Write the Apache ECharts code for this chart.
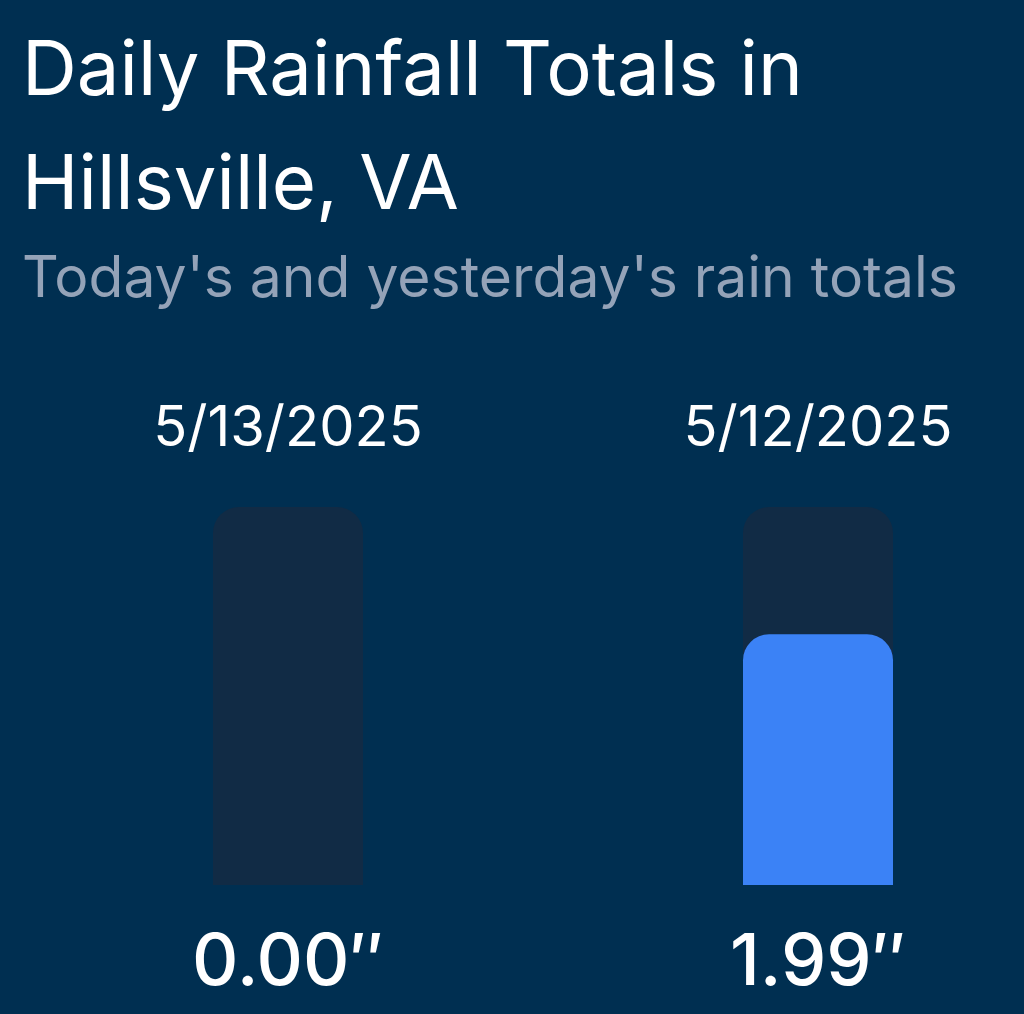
<!DOCTYPE html>
<html><head><meta charset="utf-8">
<script src="https://cdn.jsdelivr.net/npm/echarts@6/dist/echarts.min.js"></script>
<style>html,body{margin:0;padding:0;background:#002f51;}#c{width:1024px;height:1014px;}</style>
</head><body><div id="c"></div>
<script>
const dates = ['5/13/2025', '5/12/2025'];
const rainfall = [0.00, 1.99];
const axisMax = 3;
const titleText = 'Daily Rainfall Totals in\nHillsville, VA';
const subtitleText = "Today's and yesterday's rain totals";

const chart = echarts.init(document.getElementById('c'));
chart.setOption({
  backgroundColor: '#002f51',
  animation: false,
  title: {
    text: titleText,
    subtext: subtitleText,
    left: 17, top: 10,
    itemGap: 8,
    textStyle: { fontFamily: 'Inter', fontSize: 76, fontWeight: 400, color: '#ffffff', lineHeight: 114 },
    subtextStyle: { fontFamily: 'Inter', fontSize: 57, fontWeight: 400, color: '#94a3b8' }
  },
  grid: { left: 23, right: -59, top: 507, bottom: 129, outerBoundsMode: 'none', containLabel: false },
  xAxis: [
    { type: 'category', position: 'top', data: dates,
      axisLine: { show: false }, axisTick: { show: false },
      axisLabel: { color: '#ffffff', fontFamily: 'Inter', fontSize: 56, margin: 50 } },
    { type: 'category', position: 'bottom', data: rainfall.map(v => v.toFixed(2) + '″'),
      axisLine: { show: false }, axisTick: { show: false },
      axisLabel: { color: '#ffffff', fontFamily: 'Inter', fontSize: 72, fontWeight: 500, margin: 42 } }
  ],
  yAxis: { type: 'value', min: 0, max: axisMax, show: false, splitLine: { show: false } },
  series: [{
    type: 'bar', data: rainfall, barWidth: 150, xAxisIndex: 0,
    showBackground: true,
    backgroundStyle: { color: '#112b45', borderRadius: [26, 26, 0, 0] },
    itemStyle: { color: '#3b82f6', borderRadius: [26, 26, 0, 0] }
  }]
});
</script></body></html>
